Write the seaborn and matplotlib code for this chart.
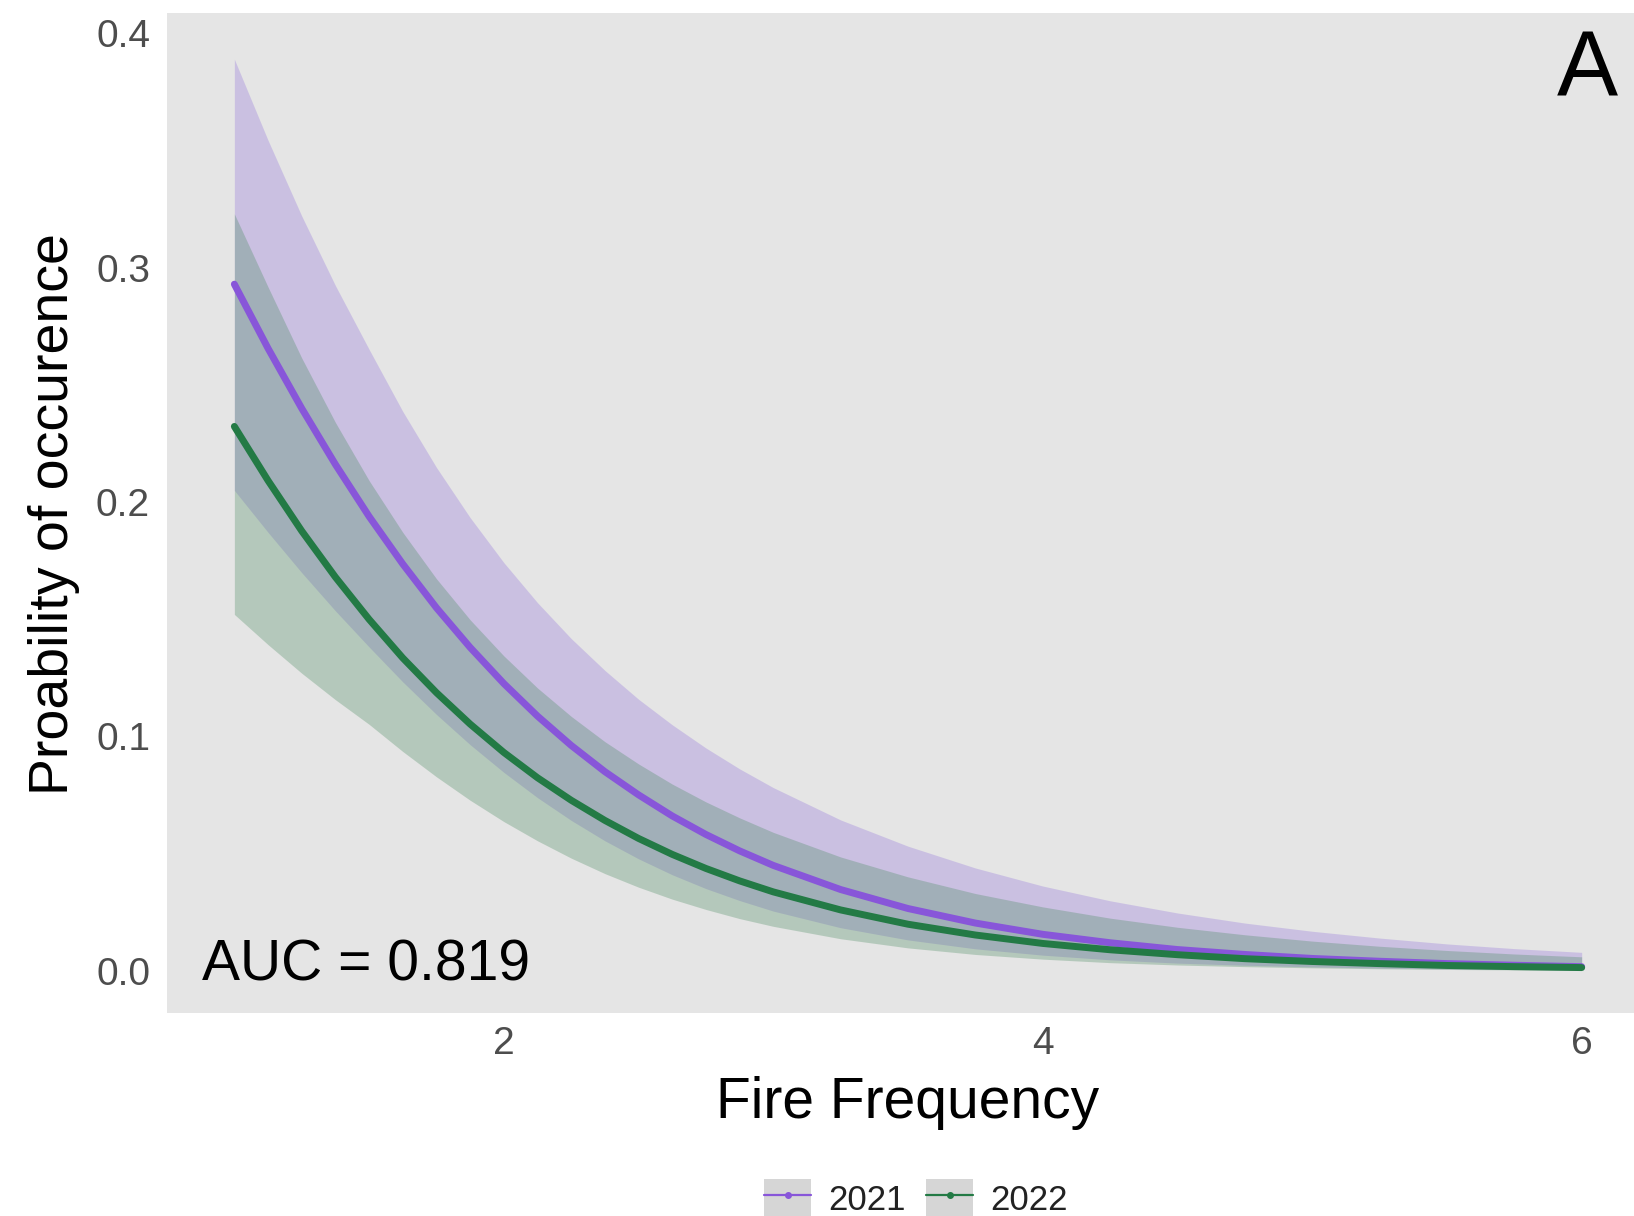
import matplotlib
matplotlib.use("Agg")
import matplotlib.pyplot as plt
from matplotlib.lines import Line2D
from matplotlib.patches import Rectangle
from matplotlib.legend_handler import HandlerLine2D
import pandas as pd
import seaborn as sns

# values
fire_freq = [1.0, 1.125, 1.25, 1.375, 1.5, 1.625, 1.75, 1.875, 2.0, 2.125, 2.25, 2.375,
             2.5, 2.625, 2.75, 2.875, 3.0, 3.25, 3.5, 3.75, 4.0, 4.25, 4.5, 4.75,
             5.0, 5.25, 5.5, 5.75, 6.0]

p21_fit = [0.2930, 0.2656, 0.2400, 0.2161, 0.1939, 0.1736, 0.1549, 0.1380, 0.1226, 0.1087,
           0.0962, 0.0850, 0.0751, 0.0661, 0.0582, 0.0512, 0.0450, 0.0347, 0.0266, 0.0204,
           0.0156, 0.0120, 0.0091, 0.0070, 0.0053, 0.0041, 0.0031, 0.0024, 0.0018]
p21_hi = [0.3890, 0.3544, 0.3221, 0.2924, 0.2652, 0.2387, 0.2148, 0.1934, 0.1742, 0.1571,
          0.1418, 0.1282, 0.1159, 0.1050, 0.0951, 0.0862, 0.0782, 0.0644, 0.0532, 0.0439,
          0.0362, 0.0299, 0.0247, 0.0204, 0.0169, 0.0140, 0.0115, 0.0095, 0.0079]
p21_lo = [0.2050, 0.1871, 0.1699, 0.1536, 0.1382, 0.1233, 0.1094, 0.0965, 0.0847, 0.0739,
          0.0642, 0.0555, 0.0478, 0.0410, 0.0351, 0.0300, 0.0255, 0.0184, 0.0132, 0.0094,
          0.0067, 0.0047, 0.0033, 0.0024, 0.0017, 0.0012, 0.0008, 0.0006, 0.0004]

p22_fit = [0.2323, 0.2092, 0.1877, 0.1680, 0.1500, 0.1335, 0.1187, 0.1053, 0.0932, 0.0824,
           0.0728, 0.0642, 0.0565, 0.0497, 0.0437, 0.0384, 0.0337, 0.0260, 0.0199, 0.0153,
           0.0117, 0.0090, 0.0069, 0.0052, 0.0040, 0.0031, 0.0023, 0.0018, 0.0014]
p22_hi = [0.3230, 0.2918, 0.2615, 0.2340, 0.2092, 0.1871, 0.1673, 0.1498, 0.1344, 0.1207,
          0.1086, 0.0978, 0.0883, 0.0797, 0.0721, 0.0653, 0.0591, 0.0486, 0.0401, 0.0330,
          0.0273, 0.0225, 0.0186, 0.0154, 0.0127, 0.0105, 0.0087, 0.0072, 0.0060]
p22_lo = [0.1521, 0.1392, 0.1270, 0.1157, 0.1052, 0.0936, 0.0828, 0.0728, 0.0637, 0.0555,
          0.0481, 0.0415, 0.0357, 0.0306, 0.0262, 0.0223, 0.0190, 0.0137, 0.0098, 0.0070,
          0.0050, 0.0035, 0.0025, 0.0018, 0.0013, 0.0009, 0.0006, 0.0004, 0.0003]

years = ["2021", "2022"]
line_colors = {"2021": "#8856D9", "2022": "#237A45"}
fill_colors = {"2021": "#8E6DDB", "2022": "#45885C"}
y_ticks = [0.0, 0.1, 0.2, 0.3, 0.4]
x_ticks = [2, 4, 6]

sns.set_style("white", {"axes.facecolor": "#E5E5E5"})
plt.rcParams['font.family'] = ['Liberation Sans', 'DejaVu Sans']

n = len(fire_freq)
df = pd.DataFrame({
    "Fire Frequency": fire_freq * 2,
    "prob": p21_fit + p22_fit,
    "year": [years[0]] * n + [years[1]] * n,
})

fig = plt.figure(figsize=(16.34, 12.16), dpi=100)
ax = fig.add_axes([0.1022, 0.1669, 0.907, 0.8224])

# confidence ribbons, 2022 on top
ax.fill_between(fire_freq, p21_lo, p21_hi, color=fill_colors["2021"], alpha=0.3, lw=0)
ax.fill_between(fire_freq, p22_lo, p22_hi, color=fill_colors["2022"], alpha=0.3, lw=0)

sns.lineplot(data=df, x="Fire Frequency", y="prob", hue="year", palette=line_colors,
             errorbar=None, linewidth=5.0, legend=False, ax=ax, solid_capstyle='round')

ax.set_xlim(0.75, 6.25)
ax.set_ylim(-0.018, 0.4087)
ax.set_xticks(x_ticks)
ax.set_xticklabels([str(t) for t in x_ticks])
ax.set_yticks(y_ticks)
ax.set_yticklabels([f"{t:.1f}" for t in y_ticks])
ax.tick_params(axis='x', length=5, width=1.1, color='#333333', pad=4.3,
               labelsize=28, labelcolor='#4D4D4D')
ax.tick_params(axis='y', length=0, pad=12.2, labelsize=28, labelcolor='#4D4D4D')
for s in ax.spines.values():
    s.set_visible(False)
ax.grid(False)

ax.set_xlabel("Fire Frequency", fontsize=41, color='black')
ax.xaxis.set_label_coords(0.5, -0.063)
ax.set_ylabel("Proability of occurence", fontsize=40, color='black')
ax.yaxis.set_label_coords(-0.059, 0.499)

ax.text(1.49, -0.0043, "AUC = 0.819", fontsize=41, ha='center', va='baseline', color='black')
ax.text(6.02, 0.373, "A", fontsize=66, ha='center', va='baseline', color='black')


# legend keys with grey square behind line + dot, like ggplot
class KeyHandler(HandlerLine2D):
    def create_artists(self, legend, orig_handle, xdescent, ydescent, width, height, fontsize, trans):
        box = Rectangle((-xdescent, -ydescent), width, height, facecolor='#D6D6D6',
                        edgecolor='none', transform=trans)
        arts = super().create_artists(legend, orig_handle, xdescent, ydescent,
                                      width, height, fontsize, trans)
        return [box] + list(arts)


handles = [Line2D([0], [0], color=line_colors[y], lw=1.6, marker='o', ms=4) for y in years]
fig.legend(handles, years, loc='center', bbox_to_anchor=(0.5606, 0.0144), ncol=2,
           frameon=False, fontsize=25, handlelength=1.35, handleheight=1.35,
           handletextpad=0.49, columnspacing=0.6, borderpad=0, numpoints=1,
           labelcolor='#222222', handler_map={Line2D: KeyHandler()})

fig.savefig("out.png", dpi=100)
